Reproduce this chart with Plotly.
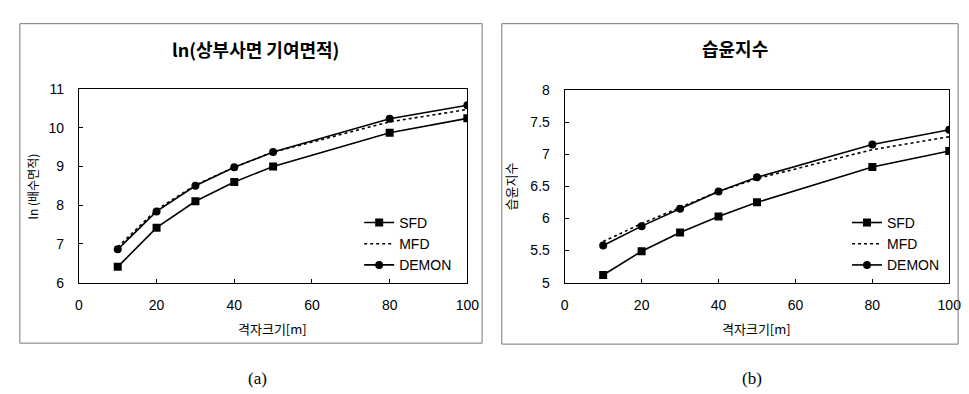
import plotly.graph_objects as go

# ---- data ----
grid_size = [10, 20, 30, 40, 50, 80, 100]

ln_area_sfd = [6.41, 7.42, 8.10, 8.60, 9.00, 9.87, 10.24]
ln_area_mfd = [6.92, 7.88, 8.52, 8.98, 9.37, 10.15, 10.47]
ln_area_demon = [6.86, 7.84, 8.50, 8.98, 9.37, 10.23, 10.58]

twi_sfd = [5.12, 5.49, 5.78, 6.03, 6.25, 6.80, 7.05]
twi_mfd = [5.64, 5.92, 6.17, 6.42, 6.62, 7.07, 7.27]
twi_demon = [5.58, 5.88, 6.15, 6.42, 6.64, 7.15, 7.38]

x_ticks = [0, 20, 40, 60, 80, 100]
left_yticks = [6, 7, 8, 9, 10, 11]
right_yticks = [5, 5.5, 6, 6.5, 7, 7.5, 8]
right_yticklabels = ["5", "5.5", "6", "6.5", "7", "7.5", "8"]

series_names = ["SFD", "MFD", "DEMON"]

# ---- figure ----
W, H = 969, 394
KFONT = "Noto Sans CJK KR"
NFONT = "Liberation Sans, Arial, sans-serif"

def px_x(p):
    return p / W

def px_y(p):
    return 1 - p / H

fig = go.Figure()

def add_series(xa, ya, legend, sfd, mfd, demon):
    fig.add_trace(go.Scatter(x=grid_size, y=sfd, name=series_names[0], mode="lines+markers",
                             line=dict(color="black", width=1.6),
                             marker=dict(symbol="square", size=8, color="black"),
                             xaxis=xa, yaxis=ya, legend=legend))
    fig.add_trace(go.Scatter(x=grid_size, y=mfd, name=series_names[1], mode="lines",
                             line=dict(color="black", width=1.6, dash="dot"),
                             xaxis=xa, yaxis=ya, legend=legend))
    fig.add_trace(go.Scatter(x=grid_size, y=demon, name=series_names[2], mode="lines+markers",
                             line=dict(color="black", width=1.6),
                             marker=dict(symbol="circle", size=8, color="black"),
                             xaxis=xa, yaxis=ya, legend=legend))

add_series("x", "y", "legend", ln_area_sfd, ln_area_mfd, ln_area_demon)
add_series("x2", "y2", "legend2", twi_sfd, twi_mfd, twi_demon)

axis_common = dict(showgrid=False, zeroline=False, showline=True, linecolor="black",
                   linewidth=1.2, mirror=True, ticks="inside", ticklen=4,
                   tickcolor="black", tickfont=dict(family=NFONT, size=14, color="black"))

fig.update_layout(
    width=W, height=H,
    margin=dict(l=0, r=0, t=0, b=0),
    paper_bgcolor="white", plot_bgcolor="white",
    showlegend=True,
    xaxis=dict(domain=[px_x(68), px_x(463)], range=[0, 100], tickvals=x_ticks,
               ticklabelstandoff=9, anchor="y", **axis_common),
    yaxis=dict(domain=[px_y(278), px_y(76)], range=[6, 11], tickvals=left_yticks,
               ticklabelstandoff=11, anchor="x", **axis_common),
    xaxis2=dict(domain=[px_x(562), px_x(953)], range=[0, 100], tickvals=x_ticks,
                ticklabelstandoff=9, anchor="y2", **axis_common),
    yaxis2=dict(domain=[px_y(278), px_y(77)], range=[5, 8], tickvals=right_yticks,
                ticktext=right_yticklabels, ticklabelstandoff=11, anchor="x2", **axis_common),
    legend=dict(x=px_x(353), y=px_y(199), xanchor="left", yanchor="top",
                bgcolor="rgba(0,0,0,0)", font=dict(family=NFONT, size=14, color="black"),
                itemwidth=30, tracegroupgap=0),
    legend2=dict(x=px_x(849), y=px_y(199), xanchor="left", yanchor="top",
                 bgcolor="rgba(0,0,0,0)", font=dict(family=NFONT, size=14, color="black"),
                 itemwidth=30, tracegroupgap=0),
)

# panel frames
fig.add_shape(type="rect", xref="paper", yref="paper",
              x0=px_x(8), x1=px_x(478), y0=px_y(341), y1=px_y(8),
              line=dict(color="#777777", width=1))
fig.add_shape(type="rect", xref="paper", yref="paper",
              x0=px_x(498), x1=px_x(962), y0=px_y(342), y1=px_y(8),
              line=dict(color="#777777", width=1))

ann = []
ann.append(dict(text="<b>ln(상부사면 기여면적)</b>", x=px_x(248), y=px_y(34),
                font=dict(family=KFONT, size=18, color="black")))
ann.append(dict(text="<b>습윤지수</b>", x=px_x(735), y=px_y(33),
                font=dict(family=KFONT, size=18, color="black")))
ann.append(dict(text="ln (배수면적)", x=px_x(21), y=px_y(178), textangle=-90,
                font=dict(family=KFONT, size=12, color="black")))
ann.append(dict(text="습윤지수", x=px_x(507), y=px_y(178), textangle=-90,
                font=dict(family=KFONT, size=13, color="black")))
ann.append(dict(text="격자크기[m]", x=px_x(265), y=px_y(326),
                font=dict(family=KFONT, size=13, color="black")))
ann.append(dict(text="격자크기[m]", x=px_x(757), y=px_y(326),
                font=dict(family=KFONT, size=13, color="black")))
ann.append(dict(text="(a)", x=px_x(250), y=px_y(378),
                font=dict(family="Liberation Serif, serif", size=17, color="black")))
ann.append(dict(text="(b)", x=px_x(752), y=px_y(378),
                font=dict(family="Liberation Serif, serif", size=17, color="black")))
for a in ann:
    a.update(xref="paper", yref="paper", showarrow=False, xanchor="center", yanchor="middle")
fig.update_layout(annotations=ann)

fig.write_html("out.html")
